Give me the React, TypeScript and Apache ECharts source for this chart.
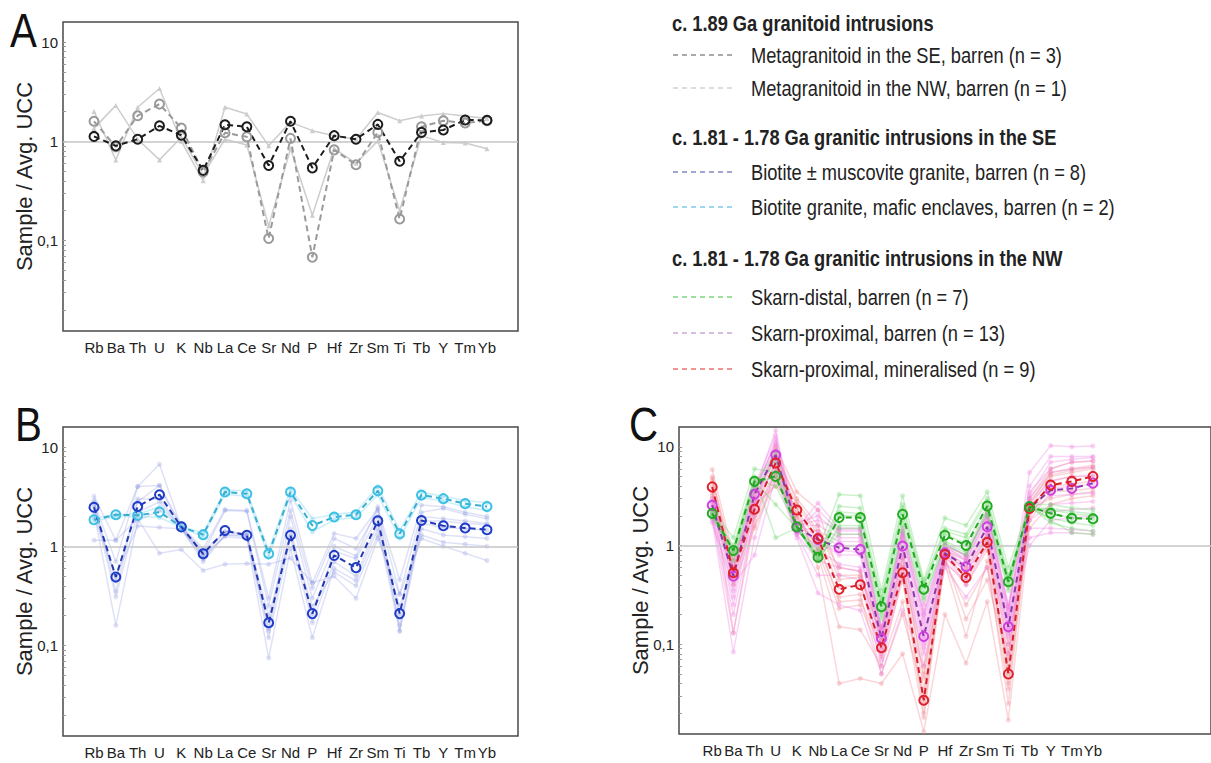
import React, { useEffect, useRef } from 'react';
import * as echarts from 'echarts';

// ---------- categories & ticks ----------
const ELEMENTS = ['Rb', 'Ba', 'Th', 'U', 'K', 'Nb', 'La', 'Ce', 'Sr', 'Nd', 'P', 'Hf', 'Zr', 'Sm', 'Ti', 'Tb', 'Y', 'Tm', 'Yb'];
const Y_LABEL_VALUES = [0.1, 1, 10];
const Y_LABEL_TEXT = ['0,1', '1', '10'];
const Y_TICK_VALUES = [0.02, 0.03, 0.04, 0.05, 0.06, 0.07, 0.08, 0.09, 0.1, 0.2, 0.3, 0.4, 0.5, 0.6, 0.7, 0.8, 0.9, 1, 2, 3, 4, 5, 6, 7, 8, 9, 10];

// ---------- Panel A ----------
const A_SE_MEAN = [1.12, 0.90, 1.05, 1.43, 1.15, 0.51, 1.47, 1.40, 0.57, 1.59, 0.54, 1.14, 1.05, 1.48, 0.63, 1.23, 1.30, 1.64, 1.63];
const A_NW_MEAN = [1.59, 0.88, 1.81, 2.37, 1.36, 0.49, 1.22, 1.11, 0.105, 1.07, 0.068, 0.82, 0.58, 1.23, 0.165, 1.40, 1.61, 1.53, 1.61];
const A_SAMPLE_1 = [2.0, 0.65, 2.2, 3.4, 1.0, 0.40, 2.2, 1.88, 0.90, 1.56, 1.28, 1.14, 1.05, 1.95, 1.61, 1.80, 1.90, 1.80, 1.70];
const A_SAMPLE_2 = [1.35, 2.3, 1.05, 0.65, 1.10, 0.46, 1.05, 0.92, 0.14, 0.84, 0.18, 0.85, 0.60, 1.01, 0.20, 1.14, 0.97, 0.96, 0.84];

// ---------- Panel B ----------
const B_BIOTITE_MEAN = [2.47, 0.49, 2.52, 3.31, 1.57, 0.84, 1.44, 1.29, 0.17, 1.29, 0.21, 0.81, 0.61, 1.81, 0.21, 1.82, 1.61, 1.53, 1.47];
const B_ENCLAVE_MEAN = [1.85, 2.08, 2.05, 2.21, 1.57, 1.31, 3.52, 3.38, 0.84, 3.52, 1.62, 1.97, 2.08, 3.63, 1.34, 3.28, 3.02, 2.69, 2.52];
const B_BIO_1 = [3.2, 1.15, 4.0, 4.1, 1.6, 0.95, 2.35, 2.3, 0.30, 2.9, 0.43, 1.35, 1.2, 2.4, 0.46, 2.6, 2.5, 2.2, 2.0];
const B_BIO_2 = [2.8, 0.70, 4.0, 6.7, 1.55, 0.85, 2.3, 2.25, 0.25, 2.3, 0.38, 1.2, 0.95, 2.3, 0.33, 2.2, 2.4, 2.1, 1.9];
const B_BIO_3 = [2.6, 0.45, 2.8, 4.1, 1.5, 0.80, 1.4, 1.3, 0.14, 1.5, 0.20, 0.9, 0.75, 2.0, 0.20, 2.0, 1.9, 1.8, 1.7];
const B_BIO_4 = [2.5, 0.31, 2.2, 2.8, 1.5, 0.75, 1.3, 1.25, 0.12, 1.2, 0.17, 0.7, 0.50, 1.7, 0.16, 1.7, 1.55, 1.5, 1.45];
const B_BIO_5 = [2.2, 0.16, 1.8, 2.3, 1.6, 0.80, 1.25, 1.2, 0.075, 0.95, 0.12, 0.6, 0.45, 1.5, 0.14, 1.5, 1.3, 1.25, 1.2];
const B_BIO_6 = [2.0, 0.50, 1.6, 1.55, 1.5, 0.70, 1.3, 1.3, 0.20, 1.3, 0.25, 0.55, 0.40, 1.3, 0.25, 1.3, 1.1, 1.05, 1.0];
const B_BIO_7 = [1.15, 1.15, 1.9, 0.85, 0.93, 0.57, 0.66, 0.67, 0.66, 0.76, 0.43, 0.50, 0.30, 1.2, 0.33, 1.2, 1.0, 0.85, 0.72];
const B_BIO_8 = [2.9, 0.35, 3.0, 3.0, 1.55, 0.90, 1.4, 1.35, 0.15, 2.0, 0.30, 1.0, 0.80, 2.5, 0.14, 1.8, 1.8, 1.7, 1.65];
const B_ENC_1 = [1.9, 2.1, 2.1, 2.5, 1.6, 1.35, 3.7, 3.6, 0.90, 3.8, 1.9, 2.1, 2.2, 4.0, 1.45, 3.5, 3.2, 2.9, 2.75];
const B_ENC_2 = [1.8, 2.0, 2.0, 1.95, 1.55, 1.25, 3.35, 3.2, 0.78, 3.3, 1.4, 1.85, 1.95, 3.3, 1.2, 3.1, 2.85, 2.5, 2.3];

// ---------- Panel C ----------
const C_DISTAL_MEAN = [2.11, 0.89, 4.47, 5.02, 1.55, 0.76, 1.92, 1.92, 0.24, 2.07, 0.36, 1.27, 1.0, 2.52, 0.43, 2.48, 2.12, 1.89, 1.87];
const C_PROX_BARREN_MEAN = [2.56, 0.49, 3.31, 8.28, 1.52, 1.15, 0.95, 0.91, 0.114, 0.99, 0.12, 0.84, 0.61, 1.55, 0.15, 2.40, 3.64, 3.79, 4.29];
const C_PROX_MIN_MEAN = [3.93, 0.53, 2.33, 6.87, 2.29, 1.18, 0.36, 0.40, 0.092, 0.53, 0.027, 0.81, 0.475, 1.08, 0.050, 2.37, 4.10, 4.47, 5.02];

const C_G1 = [2.3, 1.2, 6.0, 5.5, 1.6, 0.90, 3.3, 3.2, 0.35, 3.2, 0.45, 1.9, 1.6, 3.5, 0.60, 2.6, 2.6, 2.4, 2.3];
const C_G2 = [2.1, 1.0, 5.0, 1.2, 1.5, 0.80, 2.5, 2.4, 0.30, 2.6, 0.42, 1.5, 1.3, 3.0, 0.50, 2.5, 2.3, 2.1, 2.0];
const C_G3 = [2.0, 0.9, 4.5, 2.6, 1.5, 0.75, 2.0, 2.0, 0.25, 2.1, 0.38, 1.3, 1.05, 2.5, 0.45, 2.4, 2.1, 1.9, 1.85];
const C_G4 = [1.9, 0.85, 4.2, 5.0, 1.5, 0.70, 1.6, 1.6, 0.22, 1.8, 0.33, 1.1, 0.90, 2.3, 0.40, 2.4, 1.9, 1.7, 1.6];
const C_G5 = [2.2, 0.8, 3.8, 7.0, 1.6, 0.70, 1.5, 1.5, 0.20, 1.6, 0.30, 1.0, 0.80, 2.1, 0.38, 2.5, 1.7, 1.5, 1.4];
const C_G6 = [2.0, 0.9, 4.8, 4.0, 1.55, 0.80, 2.2, 2.1, 0.28, 2.4, 0.40, 1.4, 1.2, 2.8, 0.48, 2.3, 2.4, 2.2, 2.1];
const C_G7 = [2.1, 0.7, 4.0, 9.0, 1.5, 0.75, 1.3, 1.3, 0.18, 1.4, 0.28, 1.05, 0.85, 2.0, 0.35, 2.6, 1.8, 1.35, 1.3];

const C_M1 = [2.5, 0.50, 3.5, 14.7, 1.5, 2.7, 1.5, 1.5, 0.15, 1.5, 0.25, 1.0, 0.80, 2.2, 0.25, 5.5, 10.3, 10.0, 10.2];
const C_M2 = [2.3, 0.45, 3.2, 12.0, 1.4, 2.3, 1.4, 1.4, 0.13, 1.3, 0.20, 0.95, 0.75, 2.0, 0.22, 4.0, 8.0, 8.0, 8.0];
const C_M3 = [2.8, 0.60, 3.8, 10.5, 1.6, 1.6, 1.2, 1.2, 0.12, 1.2, 0.16, 0.90, 0.70, 1.9, 0.20, 3.5, 6.0, 7.0, 7.2];
const C_M4 = [2.6, 0.35, 3.0, 9.0, 1.5, 1.3, 1.0, 1.0, 0.11, 1.1, 0.14, 0.85, 0.65, 1.7, 0.17, 3.0, 5.5, 6.0, 6.2];
const C_M5 = [2.2, 0.25, 2.6, 8.0, 1.45, 1.1, 0.80, 0.80, 0.10, 0.90, 0.12, 0.80, 0.60, 1.5, 0.15, 2.7, 4.5, 5.0, 5.2];
const C_M6 = [2.0, 0.13, 2.2, 7.0, 1.4, 0.90, 0.65, 0.60, 0.08, 0.75, 0.10, 0.75, 0.50, 1.3, 0.13, 2.5, 3.8, 4.0, 4.2];
const C_M7 = [1.8, 0.083, 1.2, 6.0, 1.3, 0.50, 0.50, 0.45, 0.06, 0.50, 0.08, 0.70, 0.40, 1.0, 0.10, 2.2, 3.2, 3.3, 3.4];
const C_M8 = [1.7, 0.40, 0.80, 5.0, 1.2, 0.33, 0.25, 0.22, 0.05, 0.22, 0.06, 0.60, 0.30, 0.60, 0.08, 1.8, 2.6, 2.7, 2.8];
const C_M9 = [3.0, 0.70, 4.0, 13.0, 1.7, 2.0, 1.3, 1.3, 0.14, 1.4, 0.22, 1.05, 0.78, 2.3, 0.24, 2.4, 2.2, 2.3, 2.4];
const C_M10 = [2.4, 0.55, 3.4, 9.5, 1.55, 1.4, 1.1, 1.1, 0.12, 1.25, 0.18, 0.90, 0.72, 1.8, 0.19, 1.5, 1.5, 1.45, 1.4];
const C_M11 = [2.1, 0.30, 2.8, 6.5, 1.35, 1.0, 0.90, 0.85, 0.09, 0.80, 0.11, 0.80, 0.55, 1.4, 0.14, 1.2, 1.35, 1.35, 1.3];
const C_M12 = [2.7, 0.60, 3.6, 11.0, 1.6, 1.8, 1.45, 1.45, 0.14, 1.35, 0.20, 1.0, 0.80, 2.1, 0.23, 3.2, 7.0, 7.5, 7.8];
const C_M13 = [1.9, 0.20, 2.0, 5.5, 1.3, 0.70, 0.60, 0.55, 0.07, 0.60, 0.09, 0.65, 0.45, 1.2, 0.12, 1.0, 1.8, 1.9, 2.0];

const C_R1 = [5.9, 0.80, 2.5, 10.0, 3.5, 2.3, 0.50, 0.50, 0.15, 0.90, 0.06, 1.0, 0.70, 1.3, 0.10, 3.0, 6.0, 7.0, 7.2];
const C_R2 = [5.0, 0.60, 3.0, 8.0, 3.0, 1.6, 0.45, 0.48, 0.12, 0.75, 0.045, 0.95, 0.60, 1.2, 0.08, 2.6, 5.5, 6.0, 6.5];
const C_R3 = [4.5, 0.55, 2.3, 7.0, 2.6, 1.3, 0.38, 0.40, 0.10, 0.60, 0.035, 0.90, 0.55, 1.1, 0.06, 2.4, 5.0, 5.5, 6.0];
const C_R4 = [4.0, 0.45, 2.0, 6.0, 2.3, 1.1, 0.27, 0.28, 0.09, 0.50, 0.025, 0.85, 0.45, 1.0, 0.05, 2.2, 4.5, 5.0, 5.0];
const C_R5 = [3.6, 0.13, 1.8, 5.5, 2.1, 0.90, 0.23, 0.25, 0.075, 0.45, 0.02, 0.80, 0.40, 0.90, 0.04, 2.0, 4.0, 4.2, 4.5];
const C_R6 = [3.2, 0.40, 1.5, 4.5, 2.0, 0.80, 0.15, 0.14, 0.06, 0.27, 0.018, 0.70, 0.25, 0.60, 0.035, 1.8, 3.5, 3.6, 3.8];
const C_R7 = [3.0, 0.60, 2.6, 4.0, 2.5, 0.60, 0.04, 0.045, 0.04, 0.08, 0.013, 0.20, 0.064, 0.27, 0.017, 1.5, 2.6, 3.0, 3.2];
const C_R8 = [4.8, 0.70, 2.8, 9.0, 2.8, 1.4, 0.60, 0.55, 0.11, 0.65, 0.05, 0.75, 0.18, 0.45, 0.07, 2.8, 5.2, 5.8, 6.2];
const C_R9 = [3.4, 0.50, 1.6, 5.0, 1.9, 1.0, 0.30, 0.32, 0.05, 0.20, 0.03, 0.65, 0.12, 0.70, 0.025, 2.3, 3.0, 3.3, 3.5];

// ---------- legend ----------
const LEGEND_GROUPS = [
  { title: 'c. 1.89 Ga granitoid intrusions', items: [
    { label: 'Metagranitoid in the SE, barren (n = 3)', color: '#555555' },
    { label: 'Metagranitoid in the NW, barren (n = 1)', color: '#bbbbbb' },
  ] },
  { title: 'c. 1.81 - 1.78 Ga granitic intrusions in the SE', items: [
    { label: 'Biotite \u00b1 muscovite granite, barren (n = 8)', color: '#4a4aa8' },
    { label: 'Biotite granite, mafic enclaves, barren (n = 2)', color: '#45aee0' },
  ] },
  { title: 'c. 1.81 - 1.78 Ga granitic intrusions in the NW', items: [
    { label: 'Skarn-distal, barren (n = 7)', color: '#3cc03c' },
    { label: 'Skarn-proximal, barren (n = 13)', color: '#b07cc4' },
    { label: 'Skarn-proximal, mineralised (n = 9)', color: '#e02828' },
  ] },
];
const LEGEND_TITLE_Y = [23, 137, 258];
const LEGEND_ITEM_Y = [[55, 88], [172, 207], [297, 333, 369]];
const PANEL_LETTERS = [
  { text: 'A', x: 10, y: 30 },
  { text: 'B', x: 15, y: 424 },
  { text: 'C', x: 629, y: 424 },
];

const SANS = "'Liberation Sans', Arial, Helvetica, sans-serif";
const NARROW_SCALE = 0.83;

function toXY(vals: number[]) {
  return ELEMENTS.map((_, i) => [i, vals[i]]);
}

function faint(idx: number, vals: number[], color: string, symbol: string, size = 4) {
  return {
    type: 'line', xAxisIndex: idx, yAxisIndex: idx, data: toXY(vals), silent: true,
    symbol, symbolSize: size, z: 2,
    lineStyle: { color, width: 1.5 }, itemStyle: { color },
  };
}

function mean(idx: number, vals: number[], lineColor: string, circleColor: string) {
  return {
    type: 'line', xAxisIndex: idx, yAxisIndex: idx, data: toXY(vals), silent: true,
    symbol: 'circle', symbolSize: 9, z: 5,
    lineStyle: { color: lineColor, width: 2, type: [6, 4] },
    itemStyle: { color: 'rgba(255,255,255,0)', borderColor: circleColor, borderWidth: 2 },
  };
}

function refLine(idx: number) {
  return {
    type: 'line', xAxisIndex: idx, yAxisIndex: idx, data: [], silent: true, z: 1,
    markLine: {
      silent: true, symbol: 'none', label: { show: false }, animation: false,
      lineStyle: { color: '#c4c4c4', width: 1.5, type: 'solid' },
      data: [{ yAxis: 1 }],
    },
  };
}

function yLabel(v: number) {
  const i = Y_LABEL_VALUES.findIndex((t) => Math.abs(Math.log10(t) - Math.log10(v)) < 1e-6);
  return i >= 0 ? Y_LABEL_TEXT[i] : '';
}

function makeX(idx: number, min: number, max: number) {
  return {
    type: 'value', gridIndex: idx, min, max,
    axisLine: { show: false, onZero: false }, axisTick: { show: false }, splitLine: { show: false },
    axisLabel: {
      customValues: ELEMENTS.map((_, i) => i),
      formatter: (v: number) => ELEMENTS[Math.round(v)] ?? '',
      showMinLabel: true, showMaxLabel: true, hideOverlap: false,
      fontFamily: SANS, fontSize: 15, color: '#222', margin: 9,
    },
  };
}

function makeY(idx: number) {
  return {
    type: 'log', logBase: 10, gridIndex: idx, min: 0.0123, max: 15.9,
    axisLine: { show: false, onZero: false }, splitLine: { show: false },
    axisTick: { show: true, inside: true, length: 3, lineStyle: { color: '#999', width: 1 }, customValues: Y_TICK_VALUES },
    axisLabel: {
      customValues: Y_LABEL_VALUES, formatter: yLabel, showMinLabel: true, showMaxLabel: true,
      fontFamily: SANS, fontSize: 15, color: '#222', margin: 5,
    },
    name: 'Sample / Avg. UCC', nameLocation: 'middle', nameRotate: 90, nameGap: 28,
    nameMoveOverlap: false,
    nameTextStyle: { fontFamily: SANS, fontSize: 22, color: '#222' },
  };
}

export default function App() {
  const ref = useRef<HTMLDivElement>(null);
  useEffect(() => {
    if (!ref.current) return;
    const chart = echarts.init(ref.current, null, { renderer: 'svg' });

    const graphic: any[] = PANEL_LETTERS.map((p) => ({
      type: 'text', x: p.x, y: p.y, scaleX: 0.84,
      style: { text: p.text, font: `48px ${SANS}`, fill: '#111', verticalAlign: 'middle', align: 'left' },
    }));
    LEGEND_GROUPS.forEach((g, gi) => {
      graphic.push({
        type: 'text', x: 672, y: LEGEND_TITLE_Y[gi], scaleX: NARROW_SCALE,
        style: { text: g.title, font: `bold 22px ${SANS}`, fill: '#222', verticalAlign: 'middle', align: 'left' },
      });
      g.items.forEach((it, ii) => {
        const y = LEGEND_ITEM_Y[gi][ii];
        graphic.push({
          type: 'line', shape: { x1: 673, y1: y, x2: 736, y2: y },
          style: { stroke: it.color, lineWidth: 1.2, lineDash: [5, 4] },
        });
        graphic.push({
          type: 'text', x: 751, y, scaleX: NARROW_SCALE,
          style: { text: it.label, font: `22px ${SANS}`, fill: '#222', verticalAlign: 'middle', align: 'left' },
        });
      });
    });

    const GREY_F = '#cdcdcd';
    const BIO_F = 'rgba(140,150,225,0.28)';
    const ENC_F = 'rgba(110,205,240,0.35)';
    const GRN_F = 'rgba(110,215,110,0.35)';
    const MAG_F = 'rgba(240,120,225,0.32)';
    const RED_F = 'rgba(240,130,140,0.32)';

    const series: any[] = [
      refLine(0), refLine(1), refLine(2),
      faint(0, A_SAMPLE_1, GREY_F, 'triangle', 5),
      faint(0, A_SAMPLE_2, GREY_F, 'triangle', 5),
      mean(0, A_NW_MEAN, '#9a9a9a', '#9a9a9a'),
      mean(0, A_SE_MEAN, '#1c1c1c', '#1c1c1c'),
      ...[B_BIO_1, B_BIO_2, B_BIO_3, B_BIO_4, B_BIO_5, B_BIO_6, B_BIO_7, B_BIO_8].map((d) => faint(1, d, BIO_F, 'circle', 5)),
      ...[B_ENC_1, B_ENC_2].map((d) => faint(1, d, ENC_F, 'circle', 5)),
      mean(1, B_ENCLAVE_MEAN, '#3aaed0', '#3cc0e4'),
      mean(1, B_BIOTITE_MEAN, '#2238b0', '#1e3cc8'),
      ...[C_R1, C_R2, C_R3, C_R4, C_R5, C_R6, C_R7, C_R8, C_R9].map((d) => faint(2, d, RED_F, 'circle', 5)),
      ...[C_M1, C_M2, C_M3, C_M4, C_M5, C_M6, C_M7, C_M8, C_M9, C_M10, C_M11, C_M12, C_M13].map((d) => faint(2, d, MAG_F, 'circle', 5)),
      ...[C_G1, C_G2, C_G3, C_G4, C_G5, C_G6, C_G7].map((d) => faint(2, d, GRN_F, 'circle', 5)),
      mean(2, C_PROX_BARREN_MEAN, '#8a3aa8', '#d040e0'),
      mean(2, C_PROX_MIN_MEAN, '#d81e2a', '#e0202a'),
      mean(2, C_DISTAL_MEAN, '#22a822', '#22aa22'),
    ];

    const gridStyle = { show: true, borderColor: '#4a4a4a', borderWidth: 1.5, backgroundColor: 'transparent' };
    chart.setOption({
      animation: false,
      backgroundColor: '#ffffff',
      grid: [
        { left: 63, top: 22, width: 455, height: 309, ...gridStyle },
        { left: 63, top: 427, width: 455, height: 309, ...gridStyle },
        { left: 679, top: 427, width: 545, height: 307, ...gridStyle },
      ],
      xAxis: [makeX(0, -1.42, 19.42), makeX(1, -1.42, 19.42), makeX(2, -1.57, 23.58)],
      yAxis: [makeY(0), makeY(1), makeY(2)],
      graphic,
      series,
    });
    return () => chart.dispose();
  }, []);
  return <div ref={ref} style={{ position: 'absolute', left: 0, top: 0, width: 1211, height: 763 }} />;
}
